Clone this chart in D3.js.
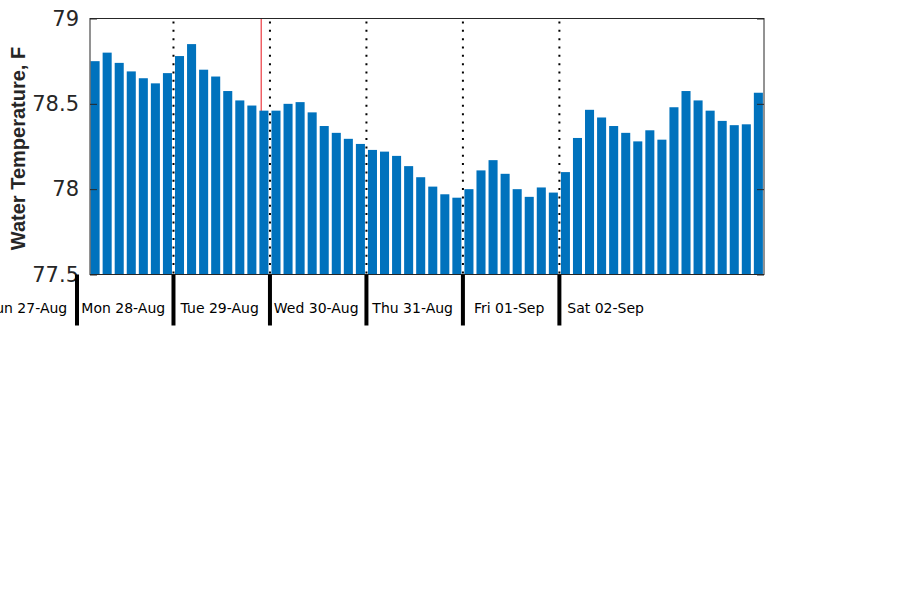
<!DOCTYPE html>
<html>
<head>
<meta charset="utf-8">
<script src="https://cdn.jsdelivr.net/npm/d3@7"></script>
<style>
  html, body { margin: 0; padding: 0; background: #fff; }
  svg { display: block; }
</style>
</head>
<body>
<svg id="chart" width="900" height="600"></svg>
<script>
// ---- data ----
const firstBarTime = new Date(2017, 7, 28, 4, 30);   // Mon 28-Aug 04:30, one bar every 3 h
const stepHours = 3;
const temps = [
  78.75, 78.80, 78.74, 78.69, 78.65, 78.62, 78.68,
  78.78, 78.85, 78.70, 78.66, 78.575, 78.52, 78.49, 78.46,
  78.46, 78.50, 78.51, 78.45, 78.37, 78.33, 78.295, 78.265,
  78.23, 78.22, 78.195, 78.135, 78.07, 78.015, 77.97, 77.95,
  78.00, 78.11, 78.17, 78.09, 78.00, 77.955, 78.01, 77.98,
  78.10, 78.30, 78.465, 78.42, 78.37, 78.33, 78.28, 78.345,
  78.29, 78.48, 78.575, 78.52, 78.46, 78.40, 78.375, 78.38,
  78.565
];
const dayStarts = [
  new Date(2017, 7, 28), new Date(2017, 7, 29), new Date(2017, 7, 30),
  new Date(2017, 7, 31), new Date(2017, 8, 1), new Date(2017, 8, 2)
];
const dayLabels = ["Sun 27-Aug", "Mon 28-Aug", "Tue 29-Aug", "Wed 30-Aug", "Thu 31-Aug", "Fri 01-Sep", "Sat 02-Sep"];
const dayLabelNoons = [
  new Date(2017, 7, 27, 12), new Date(2017, 7, 28, 12), new Date(2017, 7, 29, 12),
  new Date(2017, 7, 30, 12), new Date(2017, 7, 31, 12), new Date(2017, 8, 1, 12),
  new Date(2017, 8, 2, 12)
];
const nowTime = new Date(2017, 7, 29, 21, 49);
const yTicks = [77.5, 78, 78.5, 79];
const yTickLabels = ["77.5", "78", "78.5", "79"];
const yLabel = "Water Temperature, F";
const xDomain = [new Date(2017, 7, 28, 3, 14), new Date(2017, 8, 4, 2, 54)];
const yDomain = [77.5, 79];

// ---- layout ----
const L = 90, R = 764, T = 18.5, B = 274.5;
const svg = d3.select("#chart");
const axisColor = "#262626";
const HOUR = 3600 * 1000;

const x = d3.scaleTime().domain(xDomain).range([L, R]);
const y = d3.scaleLinear().domain(yDomain).range([B, T]);

const data = temps.map((v, i) => ({ t: new Date(firstBarTime.getTime() + i * stepHours * HOUR), v }));
const halfBar = 1.125 * HOUR;

// red "now" line (behind bars)
svg.append("line")
  .attr("x1", x(nowTime)).attr("x2", x(nowTime))
  .attr("y1", T).attr("y2", B)
  .attr("stroke", "#e8141c").attr("stroke-width", 1);

// bars
svg.append("g").selectAll("rect").data(data).join("rect")
  .attr("x", d => x(new Date(d.t.getTime() - halfBar)))
  .attr("width", d => x(new Date(d.t.getTime() + halfBar)) - x(new Date(d.t.getTime() - halfBar)))
  .attr("y", d => y(d.v))
  .attr("height", d => y(yDomain[0]) - y(d.v))
  .attr("fill", "#0072BD");

// dotted day separators inside the plot
svg.append("g").selectAll("line")
  .data(dayStarts.filter(d => x(d) > L && x(d) < R))
  .join("line")
  .attr("x1", d => x(d)).attr("x2", d => x(d))
  .attr("y1", T + 3).attr("y2", B)
  .attr("stroke", "#000").attr("stroke-width", 2)
  .attr("stroke-dasharray", "2,6.33");

// axes box
svg.append("rect")
  .attr("x", L).attr("y", T).attr("width", R - L).attr("height", B - T)
  .attr("fill", "none").attr("stroke", axisColor).attr("stroke-width", 1);

// y ticks (inward, both sides) via d3 axis
const yAxisL = d3.axisLeft(y).tickValues(yTicks).tickFormat((d, i) => yTickLabels[i]).tickSizeInner(-7).tickSizeOuter(0).tickPadding(11);
const gy = svg.append("g").attr("transform", `translate(${L},0)`).call(yAxisL);
gy.select(".domain").remove();
gy.selectAll(".tick line").attr("stroke", axisColor);
gy.selectAll(".tick text")
  .attr("fill", axisColor)
  .style("font-family", "DejaVu Sans, sans-serif")
  .style("font-size", "21px");
const yAxisR = d3.axisRight(y).tickValues(yTicks).tickFormat("").tickSizeInner(-7).tickSizeOuter(0);
const gyr = svg.append("g").attr("transform", `translate(${R},0)`).call(yAxisR);
gyr.select(".domain").remove();
gyr.selectAll(".tick line").attr("stroke", axisColor);

// thick day ticks below the axis
svg.append("g").selectAll("line").data(dayStarts).join("line")
  .attr("x1", d => x(d)).attr("x2", d => x(d))
  .attr("y1", B).attr("y2", 325.5)
  .attr("stroke", "#000").attr("stroke-width", 4);

// day labels
svg.append("g").selectAll("text").data(dayLabels).join("text")
  .attr("x", (d, i) => x(dayLabelNoons[i]) - 2)
  .attr("y", 313)
  .attr("text-anchor", "middle")
  .attr("fill", "#000")
  .style("font-family", "DejaVu Sans, sans-serif")
  .style("font-size", "14px")
  .text(d => d);

// y label
svg.append("text")
  .attr("transform", `translate(25,${(T + B) / 2 + 2}) rotate(-90)`)
  .attr("text-anchor", "middle")
  .attr("fill", axisColor)
  .style("font-family", "Liberation Sans, Arial, sans-serif")
  .style("font-weight", "bold")
  .style("font-size", "20px")
  .text(yLabel);
</script>
</body>
</html>
